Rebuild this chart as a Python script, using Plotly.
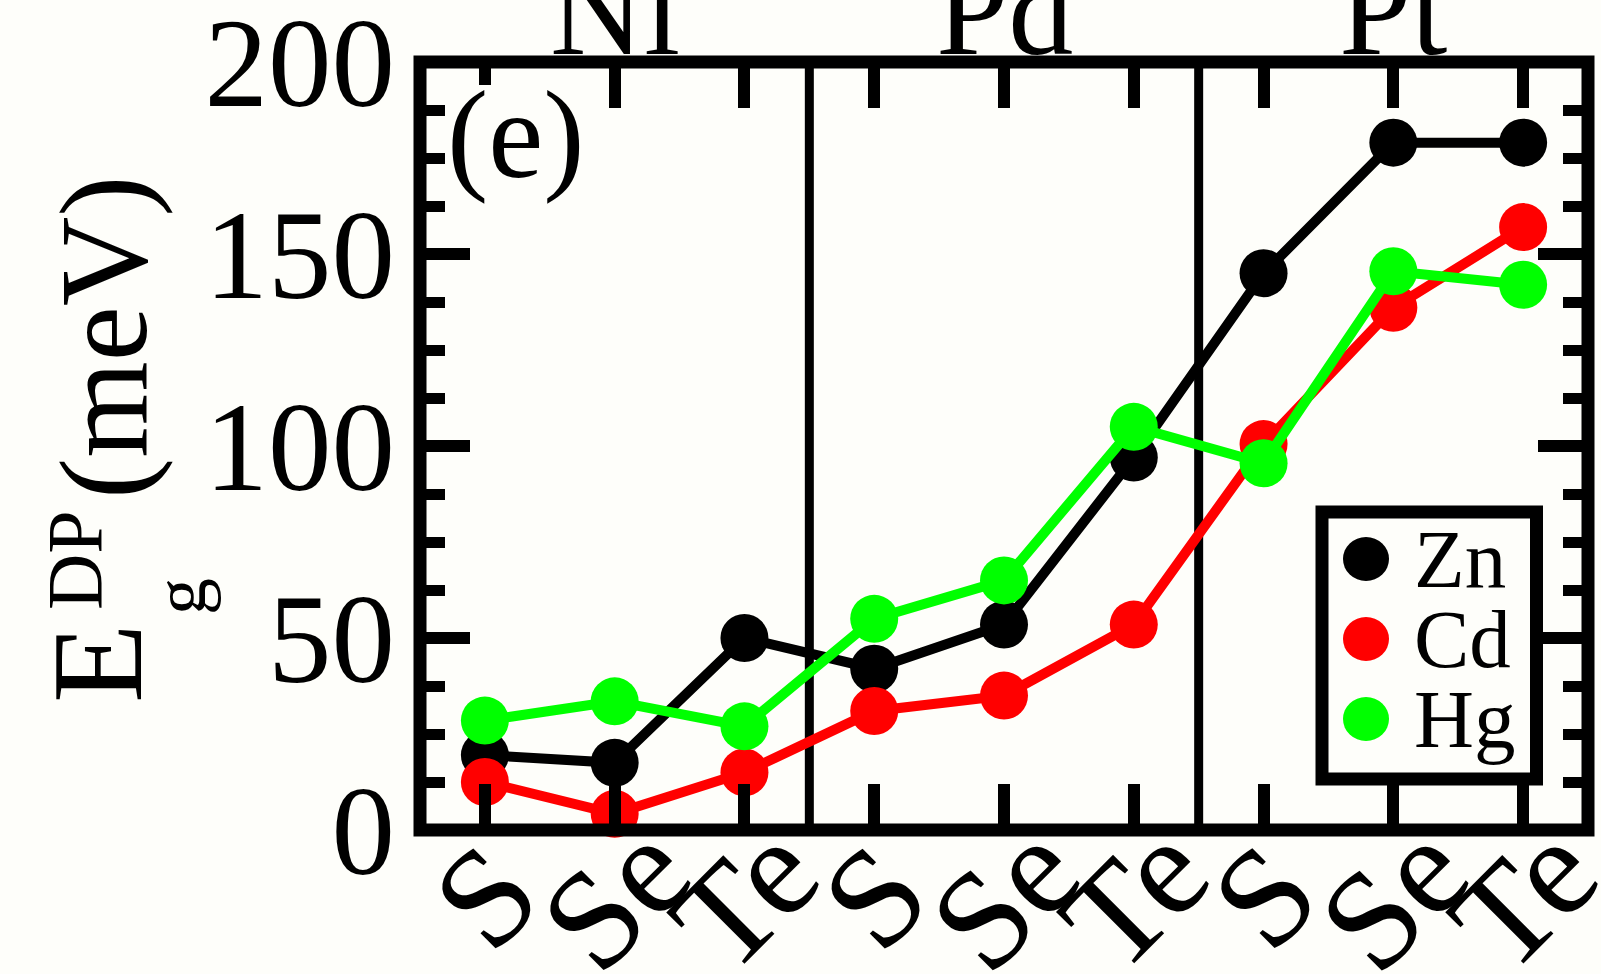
import plotly.graph_objects as go

# ---------------- data ----------------
metals = ["Ni", "Pd", "Pt"]
chalcogens = ["S", "Se", "Te"]
x_pos = list(range(len(metals) * len(chalcogens)))
zn = [19.5, 17.5, 50.0, 42.0, 53.5, 97.0, 145.0, 179.0, 179.0]
cd = [12.5, 4.2, 15.0, 31.0, 35.0, 53.5, 100.5, 136.0, 157.0]
hg = [28.5, 33.5, 27.0, 55.0, 65.0, 105.0, 95.5, 145.5, 142.0]
series_names = ["Zn", "Cd", "Hg"]
series_values = [zn, cd, hg]
series_colors = ["#000000", "#ff0000", "#00ff00"]
y_ticks = [0, 50, 100, 150, 200]
panel_label = "(e)"

# ---------------- layout helpers ----------------
W, H = 1601, 974
L, R, T, B = 420, 13, 62, 144
PW, PH = W - L - R, H - T - B
BG = "#fefefa"
FONT = "Liberation Serif, Times New Roman, serif"


def px(X):
    return (X - L) / PW


def py(Y):
    return (T + PH - Y) / PH


fig = go.Figure()
for name, vals, col in zip(series_names, series_values, series_colors):
    fig.add_trace(go.Scatter(
        x=x_pos, y=vals, name=name, mode="lines+markers",
        line=dict(color=col, width=10),
        marker=dict(color=col, size=48, line=dict(width=0)),
        cliponaxis=False, showlegend=False,
    ))

shapes = []
# cover behind the panel label
shapes.append(dict(type="rect", xref="paper", yref="paper",
                   x0=px(447), x1=px(580), y0=py(200), y1=py(85),
                   fillcolor=BG, line=dict(width=0), layer="above"))
# group separators
n = len(chalcogens)
for g in range(1, len(metals)):
    sep = g * n - 0.5
    shapes.append(dict(type="line", xref="x", yref="paper", x0=sep, x1=sep,
                       y0=0, y1=1, line=dict(color="black", width=9), layer="below"))
# frame
shapes.append(dict(type="rect", xref="paper", yref="paper", x0=0, x1=1, y0=0, y1=1,
                   line=dict(color="black", width=13), fillcolor="rgba(0,0,0,0)",
                   layer="above"))
# legend box
shapes.append(dict(type="rect", xref="paper", yref="paper",
                   x0=px(1322), x1=px(1536.5), y0=py(779), y1=py(512),
                   line=dict(color="black", width=13), fillcolor=BG, layer="above"))
legend_rows = [559, 639, 719]
annotations = []
for name, col, ry in zip(series_names, series_colors, legend_rows):
    shapes.append(dict(type="circle", xref="paper", yref="paper",
                       xsizemode="pixel", ysizemode="pixel",
                       xanchor=px(1366), yanchor=py(ry),
                       x0=-23, x1=23, y0=-22, y1=22,
                       fillcolor=col, line=dict(width=0), layer="above"))
    annotations.append(dict(text=name, xref="paper", yref="paper",
                            x=px(1412), y=py(ry), xanchor="left", yanchor="middle",
                            showarrow=False, font=dict(family=FONT, size=83, color="black")))

# group labels on top
for i, m in enumerate(metals):
    annotations.append(dict(text=m, xref="x", yref="paper", x=i * n + 1, y=py(10),
                            xanchor="center", yanchor="middle", showarrow=False,
                            font=dict(family=FONT, size=130, color="black")))
# rotated category labels
for i, xp in enumerate(x_pos):
    annotations.append(dict(text=chalcogens[i % n], xref="x", yref="paper", x=xp, y=py(896),
                            xanchor="center", yanchor="middle", textangle=-45,
                            showarrow=False, font=dict(family=FONT, size=140, color="black")))
# panel label
annotations.append(dict(text=panel_label, xref="paper", yref="paper", x=px(516), y=py(136),
                        xanchor="center", yanchor="middle", showarrow=False,
                        font=dict(family=FONT, size=124, color="black")))
# y-axis title pieces
title_parts = [("E", 130, 97, 664), ("DP", 78, 74, 560), ("g", 74, 180, 597), ("(meV)", 124, 104, 337)]
for txt, sz, cx, cy in title_parts:
    annotations.append(dict(text=txt, xref="paper", yref="paper", x=px(cx), y=py(cy),
                            xanchor="center", yanchor="middle", textangle=-90,
                            showarrow=False, font=dict(family=FONT, size=sz, color="black")))

fig.update_layout(
    width=W, height=H, margin=dict(l=L, r=R, t=T, b=B, pad=0),
    paper_bgcolor=BG, plot_bgcolor=BG, showlegend=False,
    shapes=shapes, annotations=annotations,
    xaxis=dict(range=[-0.5, len(x_pos) - 0.5], tickvals=x_pos, showticklabels=False,
               ticks="inside", ticklen=46, tickwidth=12, tickcolor="black",
               mirror="ticks", showline=False, showgrid=False, zeroline=False,
               layer="above traces", automargin=False, fixedrange=True),
    yaxis=dict(range=[0, 200], tickvals=y_ticks, ticktext=[str(v) for v in y_ticks],
               ticks="inside", ticklen=50, tickwidth=12, tickcolor="black",
               minor=dict(dtick=12.5, tick0=0, ticks="inside", ticklen=25, tickwidth=11,
                          tickcolor="black", showgrid=False),
               tickfont=dict(family=FONT, size=127, color="black"),
               ticklabeloverflow="allow", ticklabelstandoff=24, ticklabelshift=0,
               mirror="ticks", showline=False, showgrid=False, zeroline=False,
               layer="above traces", automargin=False, fixedrange=True),
)

fig.write_html(
    "out.html",
    config={"displayModeBar": False},
    post_script="document.body.style.margin='0';document.body.style.padding='0';"
                "document.body.style.overflow='hidden';",
)
